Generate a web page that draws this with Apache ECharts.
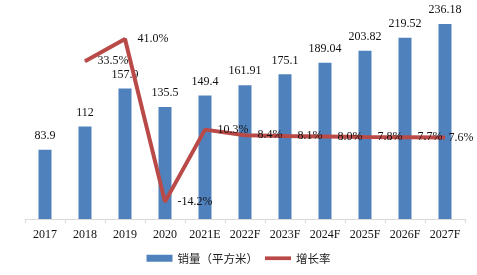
<!DOCTYPE html>
<html><head><meta charset="utf-8">
<script src="https://cdn.jsdelivr.net/npm/echarts@6/dist/echarts.min.js"></script>
<style>html,body{margin:0;padding:0;background:#fff}#c{width:477px;height:275px}</style>
</head><body><div id="c"></div>
<script>
const categories = ['2017','2018','2019','2020','2021E','2022F','2023F','2024F','2025F','2026F','2027F'];
const sales = [83.9, 112, 157.9, 135.5, 149.4, 161.91, 175.1, 189.04, 203.82, 219.52, 236.18];
const growth = [null, 33.5, 41.0, -14.2, 10.3, 8.4, 8.1, 8.0, 7.8, 7.7, 7.6];
const seriesNames = ['销量（平方米）', '增长率'];

const chart = echarts.init(document.getElementById('c'));
const serif = '"Liberation Serif", "Times New Roman", serif';
const growthData = growth.map((v, i) => i === growth.length - 1 ? {value: v, label: {distance: 3}} : v);
chart.setOption({
  animation: false,
  grid: {left: 25, right: 12, top: 12.5, bottom: 56, containLabel: false},
  legend: {
    bottom: 6, left: 'center', itemGap: 7, itemWidth: 26, itemHeight: 7,
    textStyle: {fontFamily: '"Noto Sans CJK SC"', fontSize: 11.5, color: '#222'},
    data: [
      {name: seriesNames[0], icon: 'rect'},
      {name: seriesNames[1], icon: 'path://M0,0 L28,0 L28,4 L0,4 Z', itemStyle: {color: '#B94A48'}}
    ]
  },
  xAxis: {
    type: 'category', data: categories,
    axisLine: {lineStyle: {color: '#d9d9d9', width: 1}},
    axisTick: {show: true, length: 4, lineStyle: {color: '#d9d9d9'}},
    axisLabel: {interval: 0, fontFamily: serif, fontSize: 12, color: '#111', margin: 10}
  },
  yAxis: [
    {type: 'value', min: 0, max: 250, show: false, splitLine: {show: false}},
    {type: 'value', min: -20, max: 50, show: false, splitLine: {show: false}}
  ],
  series: [
    {
      name: seriesNames[0], type: 'bar', data: sales, barWidth: 13,
      itemStyle: {color: '#4F81BD'},
      label: {show: true, position: 'top', distance: 8, fontFamily: serif, fontSize: 12, color: '#111'}
    },
    {
      name: seriesNames[1], type: 'line', yAxisIndex: 1, data: growthData,
      symbol: 'circle', symbolSize: 1, showSymbol: true, connectNulls: false,
      lineStyle: {color: '#B94A48', width: 4},
      itemStyle: {color: '#B94A48'},
      labelLayout: {hideOverlap: false},
      label: {show: true, position: 'right', distance: 12, fontFamily: serif, fontSize: 12, color: '#111',
        formatter: p => p.value == null ? '' : p.value.toFixed(1) + '%'}
    }
  ]
});
</script></body></html>
